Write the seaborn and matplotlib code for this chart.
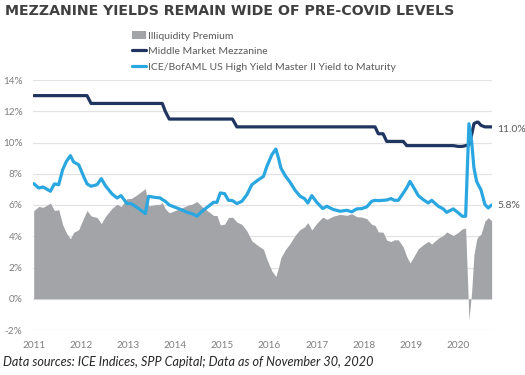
import numpy as np
import pandas as pd
import matplotlib
matplotlib.use("Agg")
import matplotlib.pyplot as plt
from matplotlib.patches import Patch
from matplotlib.lines import Line2D
import seaborn as sns

# ---------------- data ----------------
years = [2011.000, 2011.106, 2011.199, 2011.269, 2011.354, 2011.439, 2011.530, 2011.614, 2011.693, 2011.778,
         2011.847, 2011.953, 2012.059, 2012.131, 2012.216, 2012.343, 2012.434, 2012.519, 2012.661, 2012.767,
         2012.852, 2012.979, 2013.064, 2013.176, 2013.367, 2013.436, 2013.564, 2013.684, 2013.727, 2013.790,
         2013.875, 2014.072, 2014.284, 2014.356, 2014.462, 2014.568, 2014.708, 2014.814, 2014.886, 2014.956,
         2015.047, 2015.131, 2015.216, 2015.309, 2015.415, 2015.521, 2015.627, 2015.767, 2015.873, 2015.945,
         2016.051, 2016.136, 2016.191, 2016.242, 2016.333, 2016.439, 2016.544, 2016.650, 2016.742, 2016.814,
         2016.898, 2017.004, 2017.131, 2017.216, 2017.356, 2017.498, 2017.640, 2017.746, 2017.852, 2017.958,
         2018.064, 2018.169, 2018.239, 2018.309, 2018.409, 2018.487, 2018.578, 2018.648, 2018.733, 2018.839,
         2018.911, 2018.981, 2019.051, 2019.157, 2019.263, 2019.369, 2019.441, 2019.581, 2019.686, 2019.758,
         2019.898, 2020.004, 2020.089, 2020.161, 2020.231, 2020.288, 2020.337, 2020.394, 2020.428, 2020.485,
         2020.570, 2020.640, 2020.712]

high_yield = [7.37, 7.09, 7.15, 7.03, 6.88, 7.35, 7.30, 8.26, 8.79, 9.16,
              8.75, 8.58, 7.83, 7.35, 7.20, 7.30, 7.69, 7.24, 6.71, 6.45,
              6.60, 6.09, 6.09, 5.88, 5.45, 6.56, 6.49, 6.45, 6.35, 6.24,
              6.00, 5.77, 5.50, 5.45, 5.28, 5.60, 5.92, 6.17, 6.17, 6.77,
              6.73, 6.30, 6.28, 6.09, 6.24, 6.66, 7.30, 7.62, 7.83, 8.47,
              9.22, 9.58, 9.01, 8.37, 7.88, 7.45, 6.94, 6.56, 6.41, 6.13,
              6.60, 6.17, 5.77, 5.92, 5.71, 5.60, 5.66, 5.56, 5.75, 5.77,
              5.88, 6.24, 6.30, 6.28, 6.30, 6.32, 6.41, 6.30, 6.30, 6.77,
              7.10, 7.51, 7.16, 6.60, 6.34, 6.13, 6.30, 5.92, 5.75, 5.53,
              5.75, 5.50, 5.28, 5.28, 11.20, 10.07, 8.37, 7.51, 7.30, 6.98,
              6.03, 5.81, 6.00]

mezzanine = ([13.0] * 14 + [12.5] * 15 + [12.0] + [11.5] * 13 + [11.0] * 30
             + [10.56] * 2 + [10.07] * 5 + [9.8] * 11 + [9.75] * 2
             + [9.8, 9.85, 10.5, 11.2, 11.3, 11.3, 11.1] + [11.0] * 3)

series_names = ["Illiquidity Premium", "Middle Market Mezzanine",
                "ICE/BofAML US High Yield Master II Yield to Maturity"]
year_ticks = [2011, 2012, 2013, 2014, 2015, 2016, 2017, 2018, 2019, 2020]
y_ticks = [-2, 0, 2, 4, 6, 8, 10, 12, 14]
end_labels = ["11.0%", "5.8%"]
end_label_levels = [10.85, 5.95]

title = "MEZZANINE YIELDS REMAIN WIDE OF PRE-COVID LEVELS"
footnote = "Data sources: ICE Indices, SPP Capital; Data as of November 30, 2020"

df = pd.DataFrame({"year": years, "hy": high_yield, "mezz": mezzanine})
df["premium"] = df["mezz"] - df["hy"]

# ---------------- style ----------------
sns.set_theme(style="white")
plt.rcParams["font.family"] = ["Lato", "DejaVu Sans"]

C_GRAY = "#A3A4A7"
C_NAVY = "#1F3560"
C_BLUE = "#2AA7E1"
C_TXT = "#595959"
C_TICK = "#7F7F7F"

fig = plt.figure(figsize=(5.25, 3.75), dpi=100)
ax = fig.add_axes([33 / 525, 45 / 375, 459 / 525, 250 / 375])

ax.fill_between(df["year"], 0, df["premium"], color=C_GRAY, lw=0, zorder=2)
sns.lineplot(data=df, x="year", y="mezz", color=C_NAVY, lw=2.3, ax=ax, zorder=3)
sns.lineplot(data=df, x="year", y="hy", color=C_BLUE, lw=2.3, ax=ax, zorder=4)

ax.set_xlim(2010.985, 2020.72)
ax.set_ylim(-2, 14)
ax.set_yticks(y_ticks)
ax.set_yticklabels([f"{v}%" for v in y_ticks])
ax.set_xticks(year_ticks)
ax.set_xticklabels([str(y) for y in year_ticks])
ax.tick_params(axis="both", length=0, labelsize=7.2, colors=C_TICK)
ax.tick_params(axis="x", pad=8)
ax.tick_params(axis="y", pad=7.5)
for lab in ax.get_xticklabels() + ax.get_yticklabels():
    lab.set_color(C_TICK)
ax.set_xlabel("")
ax.set_ylabel("")
ax.grid(axis="y", color="#E3E3E3", lw=0.9, zorder=0)
ax.grid(axis="x", visible=False)
for s in ax.spines.values():
    s.set_visible(False)
ax.set_axisbelow(True)

# end labels
for txt, lev in zip(end_labels, end_label_levels):
    ax.annotate(txt, xy=(df["year"].iloc[-1], lev), xytext=(4, 0),
                textcoords="offset points", ha="left", va="center",
                fontsize=7.5, color=C_TXT, annotation_clip=False)

# legend
handles = [Patch(facecolor=C_GRAY, edgecolor="none"),
           Line2D([0], [0], color=C_NAVY, lw=2.3),
           Line2D([0], [0], color=C_BLUE, lw=2.3)]
leg = fig.legend(handles, series_names, loc="upper left",
                 bbox_to_anchor=(125 / 525, 1 - 24 / 375), frameon=False,
                 fontsize=7.5, handlelength=1.3, handletextpad=0.25,
                 labelspacing=0.6, borderpad=0.2)
for t in leg.get_texts():
    t.set_color(C_TXT)

fig.text(5 / 525, 1 - 11 / 375, title, family="DejaVu Sans", weight="bold",
         fontsize=10.2, color="#404040", va="center", ha="left")
fig.text(3 / 525, 1 - 362 / 375, footnote, style="italic", fontsize=9.1,
         color="#262626", va="center", ha="left")

fig.savefig("out.png", dpi=100)
